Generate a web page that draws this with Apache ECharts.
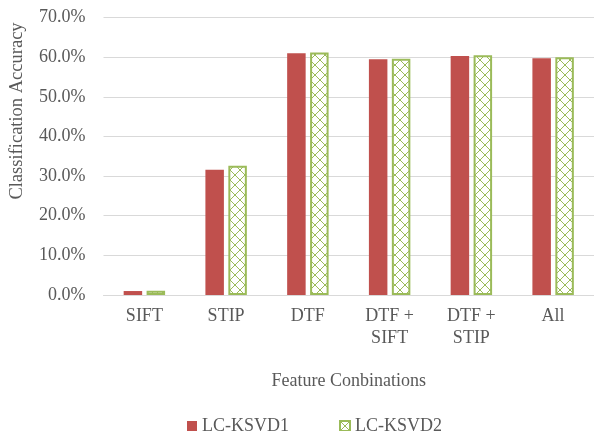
<!DOCTYPE html>
<html>
<head>
<meta charset="utf-8">
<script src="https://cdn.jsdelivr.net/npm/echarts@6/dist/echarts.min.js"></script>
<style>
  html, body { margin: 0; padding: 0; background: #ffffff; }
  #chart { width: 594px; height: 431px; }
</style>
</head>
<body>
<div id="chart"></div>
<script>
// Feature combinations on the x axis
const categories = ['SIFT', 'STIP', 'DTF', 'DTF +\nSIFT', 'DTF +\nSTIP', 'All'];
// Classification accuracy (%) per method
const lcKsvd1 = [1.0, 31.6, 61.0, 59.5, 60.3, 59.7];
const lcKsvd2 = [1.1, 32.6, 61.2, 59.6, 60.5, 60.0];
const seriesNames = ['LC-KSVD1', 'LC-KSVD2'];
const yTicks = [0, 10, 20, 30, 40, 50, 60, 70];

const RED = '#C0504D';
const GREEN = '#9BBB59';
const TEXT = '#595959';
const FONT = '"Liberation Serif", "Times New Roman", serif';

// Diamond lattice fill for the second series
function latticePattern() {
  const s = 10;
  const c = document.createElement('canvas');
  c.width = s; c.height = s;
  const g = c.getContext('2d');
  g.fillStyle = '#ffffff';
  g.fillRect(0, 0, s, s);
  g.fillStyle = GREEN;
  for (let i = 0; i < s; i += 1) {
    g.fillRect(i, i, 1, 1);
    g.fillRect(s - 1 - i, i, 1, 1);
  }
  return c;
}

const chart = echarts.init(document.getElementById('chart'), null, { renderer: 'canvas' });

chart.setOption({
  animation: false,
  backgroundColor: '#ffffff',
  textStyle: { fontFamily: FONT, color: TEXT },
  grid: { left: 103.5, top: 17.5, width: 492, bottom: 136, containLabel: false },
  legend: {
    left: 182,
    top: 412,
    icon: 'rect',
    itemWidth: 10,
    itemHeight: 10,
    itemGap: 50,
    textStyle: { fontFamily: FONT, fontSize: 18, color: TEXT },
    data: seriesNames
  },
  xAxis: {
    type: 'category',
    data: categories,
    axisLine: { lineStyle: { color: '#d9d9d9', width: 1 } },
    axisTick: { show: false },
    axisLabel: { fontFamily: FONT, fontSize: 18, color: TEXT, lineHeight: 22, margin: 10, interval: 0 },
    name: 'Feature Conbinations',
    nameLocation: 'middle',
    nameGap: 77,
    nameTextStyle: { fontFamily: FONT, fontSize: 18, color: TEXT }
  },
  yAxis: {
    type: 'value',
    min: 0,
    max: 70,
    interval: 10,
    axisLine: { show: false },
    axisTick: { show: false },
    splitLine: { lineStyle: { color: '#d9d9d9', width: 1 } },
    axisLabel: {
      fontFamily: FONT, fontSize: 18, color: TEXT, margin: 18,
      formatter: v => (yTicks.includes(v) ? v.toFixed(1) + '%' : '')
    }
  },
  graphic: [{
    type: 'text',
    x: 17,
    y: 111,
    rotation: Math.PI / 2,
    style: {
      text: 'Classification Accuracy',
      fontFamily: FONT,
      fontSize: 18.5,
      fill: TEXT,
      align: 'center',
      verticalAlign: 'middle'
    }
  }],
  series: [
    {
      name: seriesNames[0],
      type: 'bar',
      data: lcKsvd1,
      barWidth: 18.5,
      barGap: '24%',
      itemStyle: { color: RED }
    },
    {
      name: seriesNames[1],
      type: 'bar',
      data: lcKsvd2,
      barWidth: 18.5,
      barGap: '24%',
      itemStyle: {
        color: { image: latticePattern(), repeat: 'repeat' },
        borderColor: GREEN,
        borderWidth: 2
      }
    }
  ]
});
</script>
</body>
</html>
